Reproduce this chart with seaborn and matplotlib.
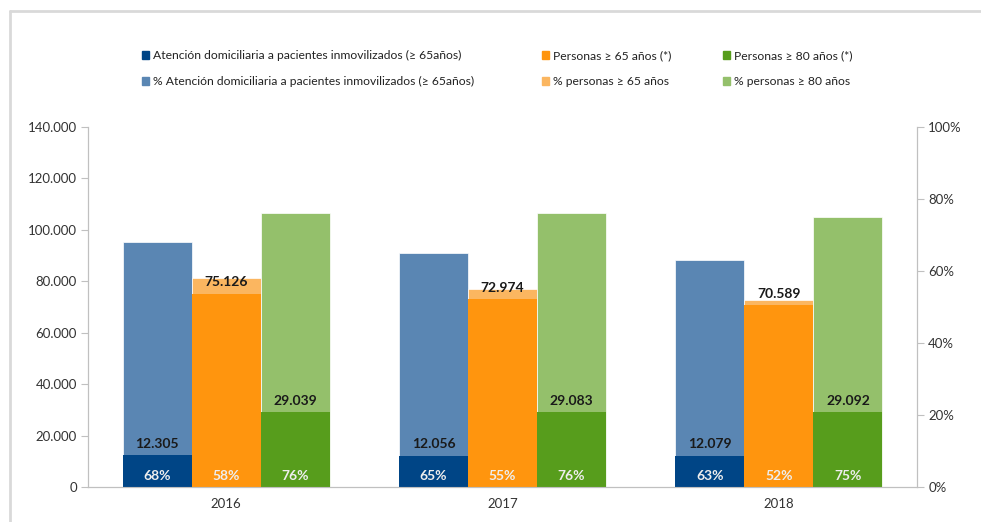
import pandas as pd
import numpy as np
import matplotlib.pyplot as plt
import seaborn as sns
from matplotlib.ticker import FuncFormatter
from matplotlib.patches import Patch
from matplotlib.lines import Line2D

# data
years = ['2016', '2017', '2018']
series = ['Atención domiciliaria a pacientes inmovilizados (≥ 65años)',
          'Personas ≥ 65 años (*)',
          'Personas ≥ 80 años (*)']
pct_series = ['% Atención domiciliaria a pacientes inmovilizados (≥ 65años)',
              '% personas ≥ 65 años',
              '% personas ≥ 80 años']
atencion = [12305, 12056, 12079]
personas65 = [75126, 72974, 70589]
personas80 = [29039, 29083, 29092]
pct_atencion = [68, 65, 63]
pct_65 = [58, 55, 52]
pct_80 = [76, 76, 75]

dark_colors = ['#004586', '#ff950e', '#579d1c']
light_colors = ['#5a86b3', '#fbb660', '#94c06b']

counts = pd.DataFrame({'Year': years * 3,
                       'Serie': np.repeat(series, 3),
                       'Value': atencion + personas65 + personas80})
pcts = pd.DataFrame({'Year': years * 3,
                     'Serie': np.repeat(pct_series, 3),
                     'Value': pct_atencion + pct_65 + pct_80})

sns.set_style('white')
plt.rcParams['font.family'] = ['Lato', 'DejaVu Sans']

fig = plt.figure(figsize=(9.81, 5.22), dpi=100)
ax_pct = fig.add_axes([0.0897, 0.067, 0.8451, 0.6897])
ax_cnt = ax_pct.twinx()

# percent bars behind, count bars in front
sns.barplot(data=pcts, x='Year', y='Value', hue='Serie', palette=light_colors,
            width=0.75, saturation=1, errorbar=None, legend=False, ax=ax_pct,
            edgecolor='white', linewidth=0.5)
sns.barplot(data=counts, x='Year', y='Value', hue='Serie', palette=dark_colors,
            width=0.75, saturation=1, errorbar=None, legend=False, ax=ax_cnt,
            linewidth=0)

ax_cnt.set_ylim(0, 140000)
ax_cnt.set_yticks(range(0, 140001, 20000))
ax_cnt.yaxis.set_major_formatter(FuncFormatter(lambda v, p: f'{v:,.0f}'.replace(',', '.')))
ax_cnt.yaxis.tick_left()
ax_pct.set_ylim(0, 100)
ax_pct.set_yticks(range(0, 101, 20))
ax_pct.yaxis.set_major_formatter(FuncFormatter(lambda v, p: f'{v:.0f}%'))
ax_pct.yaxis.tick_right()
ax_pct.set_xlim(-0.5, 2.5)

for a in (ax_pct, ax_cnt):
    a.set_xlabel('')
    a.set_ylabel('')
    a.spines['top'].set_visible(False)
    for s in ('left', 'right', 'bottom'):
        a.spines[s].set_color('#c0c0c0')
    a.tick_params(axis='y', length=5, width=0.8, color='#c0c0c0',
                  labelsize=9.5, labelcolor='#333333', pad=3)
ax_pct.tick_params(axis='x', length=0, labelsize=9.5, labelcolor='#333333', pad=8)
ax_pct.set_xticks([-0.5, 0.5, 1.5, 2.5], minor=True)
ax_pct.tick_params(axis='x', which='minor', length=4, color='#c0c0c0')
ax_pct.set_zorder(0)
ax_cnt.set_zorder(1)

# labels: counts above the dark bars, percents at the foot of the bars
for cont, vals in zip(ax_cnt.containers, [atencion, personas65, personas80]):
    ax_cnt.bar_label(cont, labels=[f'{v:,}'.replace(',', '.') for v in vals],
                     padding=4, fontsize=10, fontweight='bold', color='#1a1a1a')
for cont, vals in zip(ax_pct.containers, [pct_atencion, pct_65, pct_80]):
    for bar, v in zip(cont, vals):
        ax_cnt.text(bar.get_x() + bar.get_width() / 2, 3.0, f'{v}%',
                    transform=ax_pct.transData, ha='center', va='center',
                    color='#eeeeee', fontsize=10, fontweight='bold', zorder=5)

# legend, one block per pair
legend_x = [142 / 981, 542 / 981, 723 / 981]
for i in range(3):
    handles = [Patch(color=dark_colors[i], label=series[i]),
               Patch(color=light_colors[i], label=pct_series[i])]
    fig.legend(handles=handles, loc='upper left', bbox_to_anchor=(legend_x[i], 1 - 50 / 522),
               frameon=False, fontsize=8.7, handlelength=0.6, handleheight=0.6,
               handletextpad=0.3, labelspacing=1.25, borderpad=0, borderaxespad=0,
               labelcolor='#222222')

# thin frame at top and left
fig.add_artist(Line2D([10 / 981, 1], [1 - 11 / 522] * 2, color='#d9d9d9', lw=2,
                      transform=fig.transFigure))
fig.add_artist(Line2D([10 / 981] * 2, [0, 1 - 11 / 522], color='#d9d9d9', lw=2,
                      transform=fig.transFigure))

fig.savefig('out.png', dpi=100)
